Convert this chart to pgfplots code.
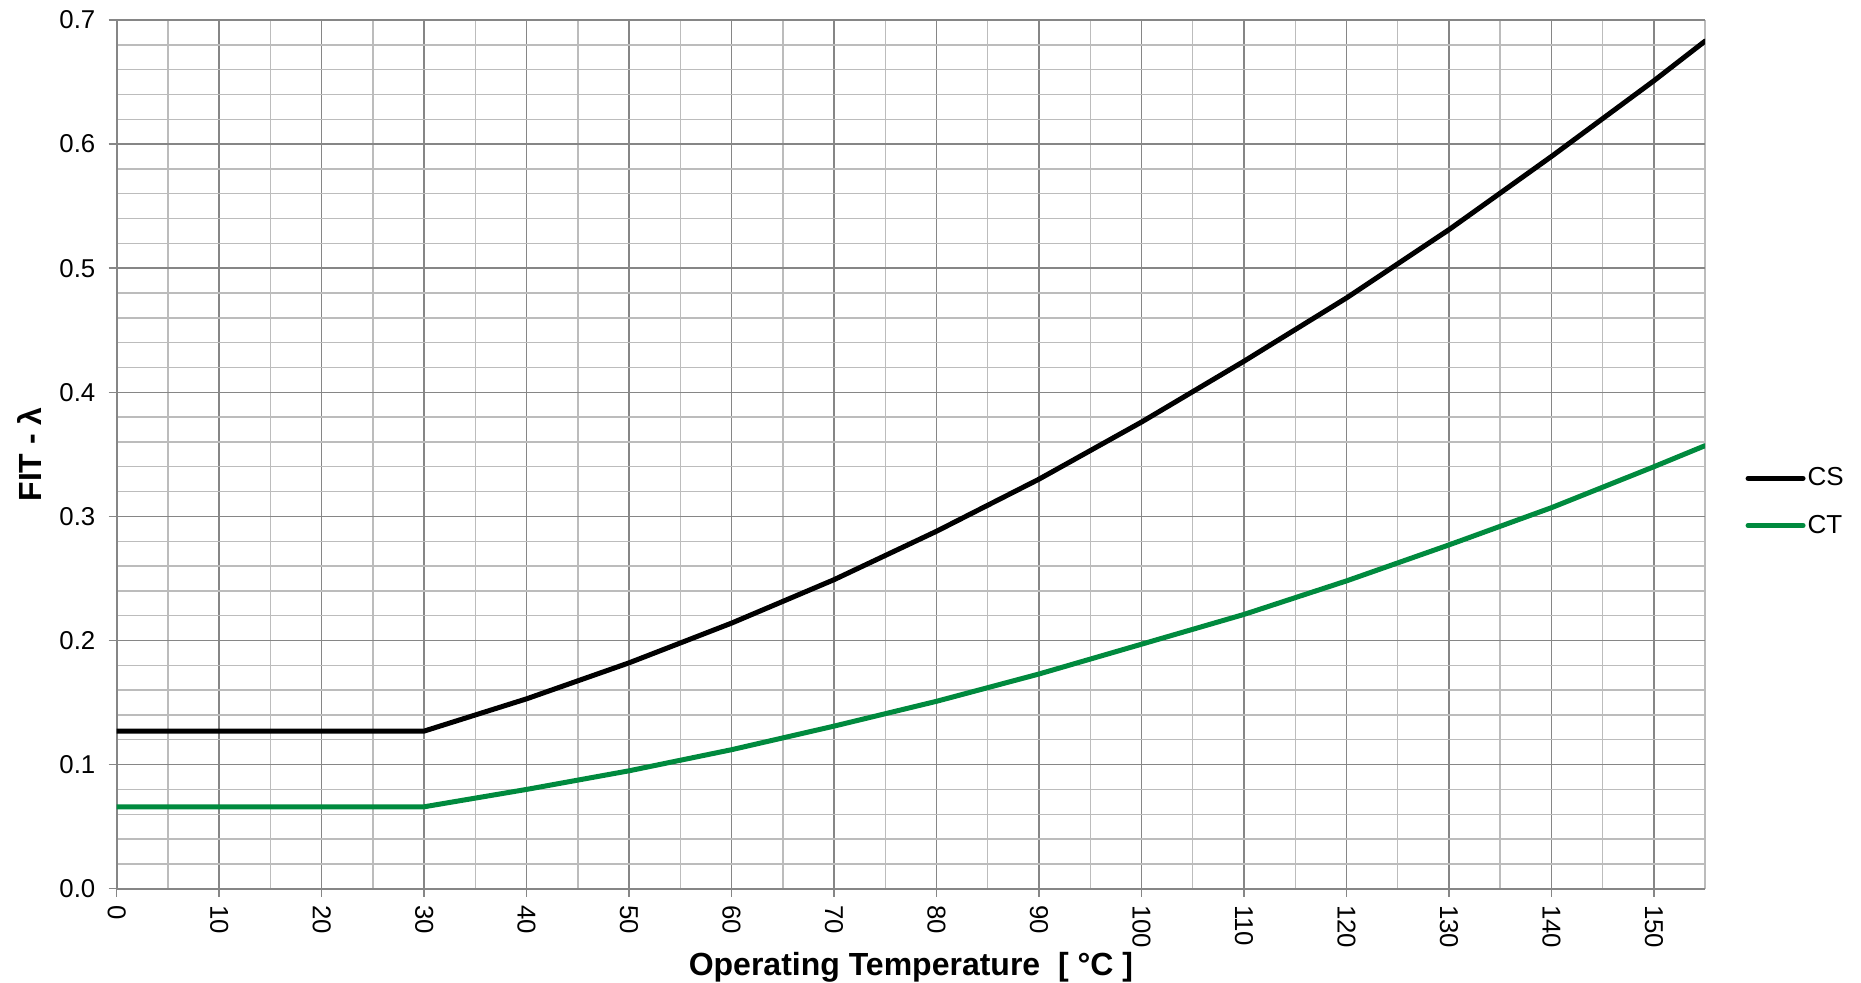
\documentclass[border=0pt]{standalone}
\usepackage{fontspec}
\setmainfont{Liberation Sans}
\usepackage{pgfplots}
\pgfplotsset{compat=1.18}
\definecolor{majgrid}{RGB}{134,134,134}
\definecolor{mingrid}{RGB}{188,188,188}
\definecolor{ctgreen}{RGB}{0,138,62}
\begin{document}
\begin{tikzpicture}
\useasboundingbox (0,0) rectangle (930.5pt,491.5pt);
\begin{axis}[
  at={(58.35pt,47.15pt)}, anchor=south west,
  scale only axis, width=794.2pt, height=434.35pt,
  xmin=0, xmax=155, ymin=0, ymax=0.7,
  xtick={0,10,20,30,40,50,60,70,80,90,100,110,120,130,140,150},
  xticklabels={0,10,20,30,40,50,60,70,80,90,100,110,120,130,140,150},
  minor xtick={5,15,25,35,45,55,65,75,85,95,105,115,125,135,145,155},
  ytick={0,0.1,0.2,0.3,0.4,0.5,0.6,0.7},
  yticklabels={0.0,0.1,0.2,0.3,0.4,0.5,0.6,0.7},
  minor ytick={0.02,0.04,0.06,0.08,0.12,0.14,0.16,0.18,0.22,0.24,0.26,0.28,0.32,0.34,0.36,0.38,0.42,0.44,0.46,0.48,0.52,0.54,0.56,0.58,0.62,0.64,0.66,0.68},
  grid=both,
  major grid style={majgrid, line width=0.75pt},
  minor grid style={mingrid, line width=0.7pt},
  axis lines*=left,
  axis line style={majgrid, line width=0.9pt},
  tick align=outside,
  major tick length=4pt, minor tick length=0pt,
  tick style={majgrid, line width=0.75pt},
  xticklabel style={yshift=-4pt, rotate=-90, anchor=west, inner sep=0pt, font=\fontsize{12.9pt}{14pt}\selectfont},
  yticklabel style={anchor=east, inner sep=0pt, xshift=-6.5pt, font=\fontsize{12.9pt}{14pt}\selectfont},
  xlabel={Operating Temperature\ \ [ °C ]},
  ylabel={FIT - λ},
  xlabel style={at={(axis description cs:0.5,-0.1005)}, anchor=base, font=\fontsize{16pt}{19pt}\selectfont\bfseries, inner sep=0pt},
  ylabel style={at={(axis description cs:-0.0472,0.5)}, anchor=base, rotate=0, font=\fontsize{16pt}{19pt}\selectfont\bfseries, inner sep=0pt},
  legend style={at={(axis description cs:1.0252,0.4452)}, anchor=west, draw=none, fill=none, inner sep=0pt, row sep=11pt, font=\fontsize{13pt}{15pt}\selectfont, nodes={inner sep=1pt}},
  legend cell align=left,
  legend image code/.code={\draw[#1, line cap=round] (0pt,0pt) -- (27.5pt,0pt);},
  every axis plot/.append style={line width=2.5pt, line join=round, line cap=round},
]
\addplot[black] coordinates {
(0,0.127) (10,0.127) (20,0.127) (30,0.127) (40,0.153) (50,0.182) (60,0.214) (70,0.249) (80,0.288) (90,0.330) (100,0.376) (110,0.425) (120,0.476) (130,0.531) (140,0.590) (150,0.651) (155,0.683)
};
\addlegendentry{CS}
\addplot[ctgreen] coordinates {
(0,0.066) (10,0.066) (20,0.066) (30,0.066) (40,0.080) (50,0.095) (60,0.112) (70,0.131) (80,0.151) (90,0.173) (100,0.197) (110,0.221) (120,0.248) (130,0.277) (140,0.307) (150,0.340) (155,0.357)
};
\addlegendentry{CT}
\end{axis}
\end{tikzpicture}
\end{document}
